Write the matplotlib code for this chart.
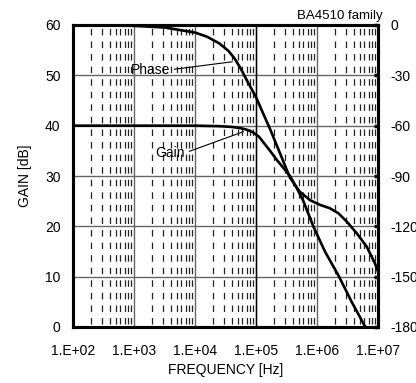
import math
import matplotlib
matplotlib.use('Agg')
import matplotlib.pyplot as plt
from matplotlib.ticker import FixedLocator, FuncFormatter

# values
gain_freq = [1e2, 1e3, 1e4, 2.5e4, 3.98e4, 5.62e4, 7.08e4, 8.91e4, 1.12e5, 1.32e5,
             1.7e5, 2.19e5, 2.82e5, 3.6e5, 4.57e5, 5.89e5, 8.7e5, 1.35e6, 2.3e6,
             3.7e6, 6.2e6]
gain_db = [40, 40, 40, 39.9, 39.75, 39.5, 39.2, 38.7, 37.8, 36.7,
           35.0, 33.2, 31.6, 30, 27.8, 25.2, 20, 15, 10,
           5, 0]

phase_freq = [1e2, 1e3, 3.2e3, 1e4, 1.58e4, 2.51e4, 3.55e4, 4.47e4, 5.62e4, 7.08e4,
              1e5, 1.32e5, 1.7e5, 2.51e5, 3.6e5, 5.2e5, 7.7e5, 1.12e6, 1.62e6,
              2.24e6, 3.1e6, 4.5e6, 6.5e6, 8.9e6, 1e7]
phase_deg = [0, -0.5, -1.5, -4.5, -7, -11, -15.5, -20, -26, -33,
             -43, -53, -62, -77, -91, -99.3, -104.4, -107.2, -109.2,
             -112.2, -117.3, -124.2, -132, -142, -147]

gain_ticks = [0, 10, 20, 30, 40, 50, 60]
phase_ticks = [-180, -150, -120, -90, -60, -30, 0]
freq_ticks = [1e2, 1e3, 1e4, 1e5, 1e6, 1e7]

plt.rcParams['font.family'] = ['Liberation Sans', 'DejaVu Sans']
plt.rcParams['font.size'] = 10
plt.rcParams['axes.unicode_minus'] = False
plt.rcParams['lines.scale_dashes'] = False

fig = plt.figure(figsize=(4.16, 3.83), dpi=100)
ax = fig.add_axes([73 / 416, 56 / 383, 305 / 416, 302 / 383])

ax.set_xscale('log')
ax.set_xlim(1e2, 1e7)
ax.set_ylim(0, 60)
ax.xaxis.set_major_locator(FixedLocator(freq_ticks))
ax.xaxis.set_minor_locator(FixedLocator(
    [m * 10 ** d for d in range(2, 7) for m in range(2, 10)]))
ax.xaxis.set_major_formatter(FuncFormatter(lambda v, p: '1.E+%02d' % round(math.log10(v))))
ax.xaxis.set_minor_formatter(FuncFormatter(lambda v, p: ''))
ax.set_yticks(gain_ticks)

# px -> pt at 100 dpi
px = 0.72
ax.grid(True, which='major', axis='both', color='#666666', lw=1.0)
ax.grid(True, which='minor', axis='x', color='#222222', lw=0.9,
        linestyle=(9.6 * px, (6.5 * px, 6.07 * px)))
ax.axvline(1e5, color='black', lw=1.0, zorder=1.5)
ax.set_axisbelow(True)

ax.tick_params(axis='both', which='both', length=0)
ax.tick_params(axis='x', pad=12)
ax.tick_params(axis='y', pad=9)

ax.plot(gain_freq, gain_db, color='black', lw=1.9)

ax.set_xlabel('FREQUENCY [Hz]', labelpad=4)
ax.set_ylabel('GAIN [dB]', labelpad=9)

ax2 = ax.twinx()
ax2.set_ylim(-180, 0)
ax2.set_yticks(phase_ticks)
ax2.tick_params(axis='y', direction='in', length=3, width=2.5, pad=9)
ax2.plot(phase_freq, phase_deg, color='black', lw=1.9)

for a in (ax, ax2):
    for s in a.spines.values():
        s.set_linewidth(2.2)
        s.set_color('black')

ax.annotate('Phase', xy=(4.1e4, 52.7), xytext=(3.9e3, 51.1), ha='right', va='center',
            arrowprops=dict(arrowstyle='-', lw=0.8, color='black', shrinkA=1, shrinkB=0,
                            relpos=(1, 0.5)))
ax.annotate('Gain', xy=(6.2e4, 38.8), xytext=(6.9e3, 34.6), ha='right', va='center',
            arrowprops=dict(arrowstyle='-', lw=0.8, color='black', shrinkA=1, shrinkB=0,
                            relpos=(1, 0.5)))

fig.text(383 / 416, 1 - 16 / 383, 'BA4510 family', ha='right', va='center', fontsize=9.5)

fig.savefig('out.png', dpi=100)
